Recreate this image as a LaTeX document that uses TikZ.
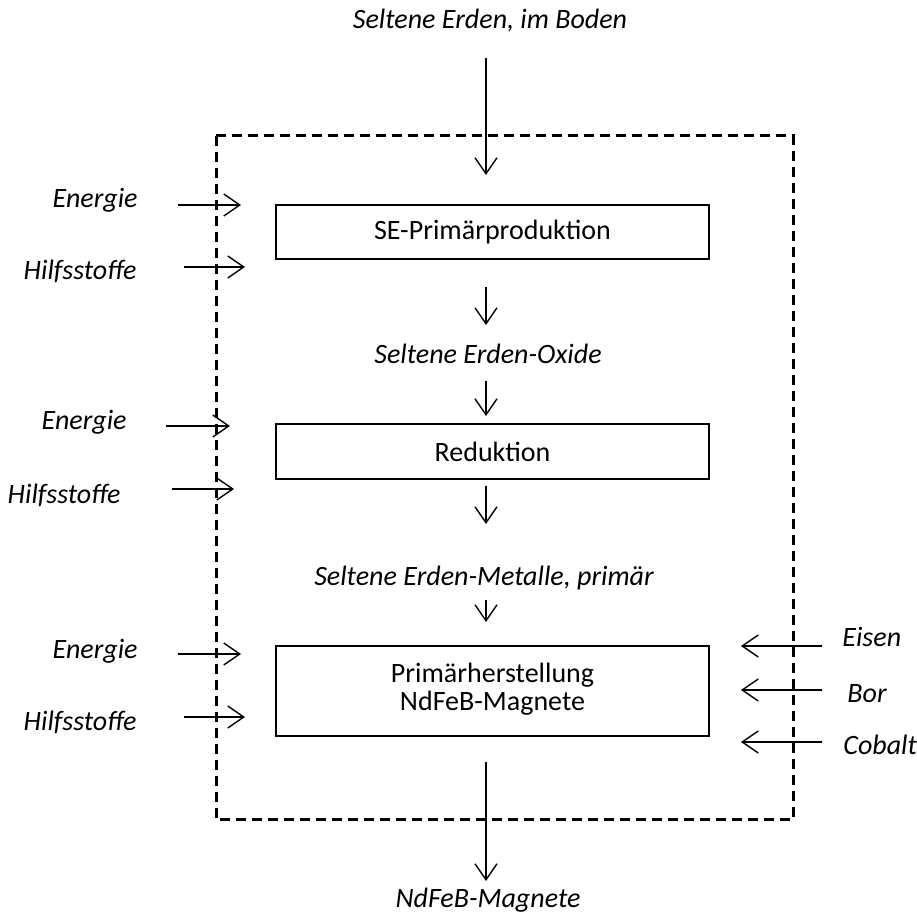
\documentclass[tikz,border=0pt]{standalone}
\usepackage{fontspec}
\setmainfont{Carlito}
\usetikzlibrary{arrows.meta}
\begin{document}
\begin{tikzpicture}[x=0.5pt,y=-0.5pt,
  flow/.style={line width=0.7pt,-{Straight Barb[length=8pt,width=11pt,line width=0.7pt]}},
  proc/.style={draw,line width=0.7pt,minimum width=216.5pt,align=center,font=\fontsize{14}{14}\selectfont},
  lbl/.style={inner sep=0pt,font=\fontsize{14}{14}\selectfont\itshape},
  frame/.style={line width=1.5pt,dash pattern=on 5pt off 3pt}]
\useasboundingbox (0,0) rectangle (917,914);
% system boundary
\draw[frame] (216,136) rectangle (793,820);
% process boxes
\node[proc,minimum height=27pt] (p1) at (492.5,232) {SE-Primärproduktion};
\node[proc,minimum height=27.5pt] (p2) at (492.5,451.5) {Reduktion};
\node[proc,minimum height=45pt] (p3) at (492.5,691) {Primärherstellung\\NdFeB-Magnete\rule[-4pt]{0pt}{1pt}};
% main flow labels
\node[lbl] (src) at (490,21) {Seltene Erden, im Boden};
\node[lbl] (ox) at (488,354) {Seltene Erden-Oxide};
\node[lbl] (met) at (484,578) {Seltene Erden-Metalle, primär};
\node[lbl] (out) at (488,900) {NdFeB-Magnete};
% main flow connectors
\coordinate (a1s) at (486,58);   \coordinate (a1e) at (486,175);
\coordinate (a2s) at (486,287);  \coordinate (a2e) at (486,325);
\coordinate (a3s) at (486,381);  \coordinate (a3e) at (486,416);
\coordinate (a4s) at (486,486);  \coordinate (a4e) at (486,524);
\coordinate (a5s) at (486,600);  \coordinate (a5e) at (486,622);
\coordinate (a6s) at (486,762);  \coordinate (a6e) at (486,881);
\foreach \i in {1,...,6} \draw[flow] (a\i s) -- (a\i e);
% left inputs
\node[lbl,anchor=east] (e1) at (138,200) {Energie};
\node[lbl,anchor=east] (h1) at (137,271) {Hilfsstoffe};
\node[lbl,anchor=east] (e2) at (127,422) {Energie};
\node[lbl,anchor=east] (h2) at (121,495) {Hilfsstoffe};
\node[lbl,anchor=east] (e3) at (138,651) {Energie};
\node[lbl,anchor=east] (h3) at (137,722) {Hilfsstoffe};
\coordinate (e1s) at (178,205); \coordinate (e1e) at (241,205);
\coordinate (h1s) at (184,267); \coordinate (h1e) at (245,267);
\coordinate (e2s) at (166,426); \coordinate (e2e) at (230,426);
\coordinate (h2s) at (172,489); \coordinate (h2e) at (234,489);
\coordinate (e3s) at (178,654); \coordinate (e3e) at (241,654);
\coordinate (h3s) at (184,717); \coordinate (h3e) at (245,717);
\foreach \n in {e1,h1,e2,h2,e3,h3} \draw[flow] (\n s) -- (\n e);
% right inputs
\node[lbl,anchor=west] (fe) at (842,637) {Eisen};
\node[lbl,anchor=west] (b) at (847,694) {Bor};
\node[lbl,anchor=west] (co) at (843,745) {Cobalt};
\coordinate (fes) at (822,646); \coordinate (fee) at (741,646);
\coordinate (bs) at (822,690);  \coordinate (be) at (741,690);
\coordinate (cos) at (822,742); \coordinate (coe) at (741,742);
\foreach \n in {fe,b,co} \draw[flow] (\n s) -- (\n e);
\end{tikzpicture}
\end{document}
